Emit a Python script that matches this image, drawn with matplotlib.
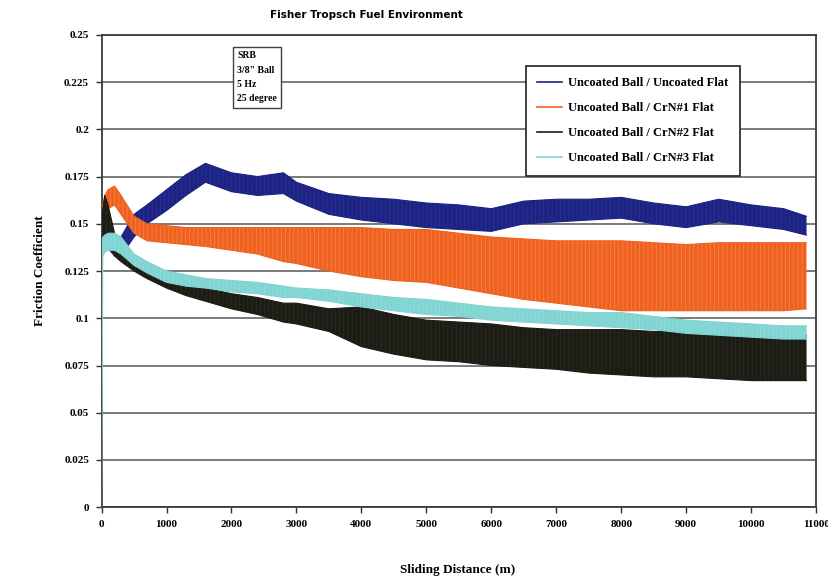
import numpy as np
import matplotlib
matplotlib.use("Agg")
import matplotlib.pyplot as plt

# sliding distance anchors (m)
dist = [0, 20, 50, 100, 200, 300, 500, 700, 1000, 1300, 1600, 2000, 2400, 2800,
        3000, 3500, 4000, 4500, 5000, 5500, 6000, 6500, 7000, 7500, 8000, 8500,
        9000, 9500, 10000, 10500, 10850]

# lower / upper edge of each noisy trace
unc_lo = [0.140, 0.140, 0.140, 0.137, 0.133, 0.133, 0.143, 0.150, 0.157, 0.165, 0.172,
          0.167, 0.165, 0.166, 0.162, 0.155, 0.152, 0.150, 0.148, 0.147, 0.146,
          0.150, 0.151, 0.152, 0.153, 0.150, 0.148, 0.151, 0.149, 0.147, 0.144]
unc_hi = [0.150, 0.151, 0.152, 0.147, 0.143, 0.143, 0.155, 0.160, 0.168, 0.176, 0.182,
          0.177, 0.175, 0.177, 0.172, 0.166, 0.164, 0.163, 0.161, 0.160, 0.158,
          0.162, 0.163, 0.163, 0.164, 0.161, 0.159, 0.163, 0.160, 0.158, 0.154]

crn1_lo = [0.148, 0.150, 0.155, 0.158, 0.160, 0.155, 0.145, 0.141, 0.140, 0.139, 0.138,
           0.136, 0.134, 0.130, 0.129, 0.125, 0.122, 0.120, 0.119, 0.116, 0.113,
           0.110, 0.108, 0.106, 0.104, 0.104, 0.104, 0.104, 0.104, 0.104, 0.105]
crn1_hi = [0.158, 0.160, 0.165, 0.168, 0.170, 0.165, 0.154, 0.150, 0.149, 0.148, 0.148,
           0.148, 0.148, 0.148, 0.148, 0.148, 0.148, 0.147, 0.147, 0.145, 0.143,
           0.142, 0.141, 0.141, 0.141, 0.140, 0.139, 0.140, 0.140, 0.140, 0.140]

crn2_lo = [0.140, 0.143, 0.147, 0.140, 0.133, 0.130, 0.125, 0.121, 0.116, 0.112, 0.109,
           0.105, 0.102, 0.098, 0.097, 0.093, 0.085, 0.081, 0.078, 0.077, 0.075,
           0.074, 0.073, 0.071, 0.070, 0.069, 0.069, 0.068, 0.067, 0.067, 0.067]
crn2_hi = [0.150, 0.158, 0.165, 0.160, 0.145, 0.140, 0.131, 0.127, 0.123, 0.119, 0.116,
           0.113, 0.111, 0.108, 0.108, 0.105, 0.106, 0.102, 0.099, 0.098, 0.097,
           0.095, 0.094, 0.094, 0.094, 0.093, 0.093, 0.092, 0.092, 0.091, 0.091]

crn3_lo = [0.000, 0.133, 0.135, 0.136, 0.136, 0.134, 0.128, 0.124, 0.119, 0.117, 0.116,
           0.114, 0.113, 0.111, 0.111, 0.109, 0.106, 0.104, 0.102, 0.101, 0.099,
           0.098, 0.097, 0.096, 0.095, 0.094, 0.092, 0.091, 0.090, 0.089, 0.089]
crn3_hi = [0.138, 0.143, 0.144, 0.145, 0.145, 0.143, 0.134, 0.130, 0.125, 0.123, 0.121,
           0.120, 0.119, 0.117, 0.116, 0.115, 0.113, 0.111, 0.110, 0.108, 0.106,
           0.105, 0.104, 0.103, 0.103, 0.101, 0.099, 0.098, 0.097, 0.096, 0.096]

labels = ["Uncoated Ball / Uncoated Flat", "Uncoated Ball / CrN#1 Flat",
          "Uncoated Ball / CrN#2 Flat", "Uncoated Ball / CrN#3 Flat"]
colors = ["#1c2383", "#f0601e", "#1b1c14", "#80d4d2"]
hatch_colors = ["#2c3393", "#f48a50", "#2e2e26", "#96dcda"]

yticks = [0, 0.025, 0.05, 0.075, 0.1, 0.125, 0.15, 0.175, 0.2, 0.225, 0.25]
ytick_labels = ["0", "0.025", "0.05", "0.075", "0.1", "0.125", "0.15", "0.175",
                "0.2", "0.225", "0.25"]
xticks = list(range(0, 11001, 1000))

plt.rcParams["hatch.linewidth"] = 0.5

fig = plt.figure(figsize=(8.29, 5.81), dpi=100)
ax = fig.add_axes([0.1225, 0.127, 0.862, 0.813])

serif = "Liberation Serif"
bands = [(unc_lo, unc_hi), (crn1_lo, crn1_hi), (crn2_lo, crn2_hi), (crn3_lo, crn3_hi)]
for (lo, hi), c, hc, lab in zip(bands, colors, hatch_colors, labels):
    ax.fill_between(dist, lo, hi, facecolor=c, lw=0, zorder=3)
    # faint vertical streaks to hint at the noisy trace
    ax.fill_between(dist, lo, hi, facecolor="none", edgecolor=hc, lw=0,
                    hatch="||||", zorder=3)
    ax.plot(dist, lo, color=c, lw=0.8, zorder=3)
    ax.plot(dist, hi, color=c, lw=0.8, zorder=3)
    ax.plot([], [], color=c, lw=1.2, label=lab)

ax.set_xlim(0, 11000)
ax.set_ylim(0, 0.25)
ax.set_yticks(yticks)
ax.set_yticklabels(ytick_labels)
ax.set_xticks(xticks)
ax.set_xticklabels([str(v) for v in xticks])
ax.tick_params(direction="out", length=4, width=1, color="#303030",
               labelsize=8, pad=5, top=False, right=False)
for t in ax.get_xticklabels() + ax.get_yticklabels():
    t.set_fontfamily(serif)
    t.set_fontweight("bold")

ax.yaxis.grid(True, color="#7a7a7a", lw=1.4, zorder=1)
ax.set_axisbelow(True)
for s in ax.spines.values():
    s.set_color("#3a3a3a")
    s.set_linewidth(1.3)

ax.set_ylabel("Friction Coefficient", fontsize=9.5, fontfamily=serif,
              fontweight="bold", labelpad=13)
fig.text(458 / 829, 1 - 570 / 581, "Sliding Distance (m)", fontsize=9.5,
         fontfamily=serif, fontweight="bold", ha="center", va="center")

fig.text(366 / 829, 1 - 15 / 581, "Fisher Tropsch Fuel Environment",
         fontsize=7.5, fontweight="bold", ha="center", va="center")

ax.text(0.19, 0.965, "SRB\n3/8\" Ball\n5 Hz\n25 degree", transform=ax.transAxes,
        fontsize=7, fontfamily=serif, fontweight="bold", va="top", ha="left",
        linespacing=1.75, zorder=5,
        bbox=dict(boxstyle="square,pad=0.45", fc="white", ec="#404040", lw=1))

leg = ax.legend(loc="upper left", bbox_to_anchor=(0.585, 0.948),
                prop={"family": serif, "weight": "bold", "size": 9},
                handlelength=2.0, handletextpad=0.5, labelspacing=1.05,
                borderpad=0.9, fancybox=False, framealpha=1, edgecolor="#303030")
leg.get_frame().set_linewidth(1.3)
leg.set_zorder(6)

fig.savefig("out.png", dpi=100)
